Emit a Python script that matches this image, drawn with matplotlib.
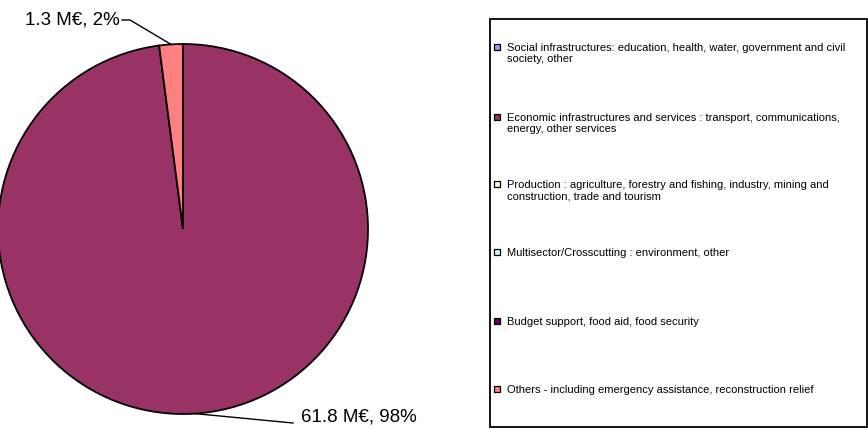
import matplotlib
matplotlib.use("Agg")
import matplotlib.pyplot as plt
from matplotlib.patches import Rectangle
import numpy as np

plt.rcParams['font.family'] = ['Liberation Sans', 'DejaVu Sans']

# Commitments by sector (M€)
sectors = [
    "Social infrastructures: education, health, water, government and civil\nsociety, other",
    "Economic infrastructures and services : transport, communications,\nenergy, other services",
    "Production : agriculture, forestry and fishing, industry, mining and\nconstruction, trade and tourism",
    "Multisector/Crosscutting : environment, other",
    "Budget support, food aid, food security",
    "Others - including emergency assistance, reconstruction relief",
]
values = [0.0, 61.8, 0.0, 0.0, 0.0, 1.3]
colors = ["#9999FF", "#993366", "#FFFFCC", "#CCFFFF", "#660066", "#FF8080"]

W, H = 868, 430
fig = plt.figure(figsize=(W / 100, H / 100), dpi=100)

# Pie axes: centre (183, 229) px from top-left, radius 185 px
cx, cy, r = 183, 229, 185
ax = fig.add_axes([(cx - r) / W, (H - cy - r) / H, 2 * r / W, 2 * r / H])

nz = [i for i, v in enumerate(values) if v > 0]
wedges, _ = ax.pie([values[i] for i in nz], colors=[colors[i] for i in nz],
                   startangle=90, counterclock=False, radius=1.0,
                   wedgeprops=dict(edgecolor='black', linewidth=1.3))
ax.set_xlim(-1, 1)
ax.set_ylim(-1, 1)
ax.set_aspect('equal')
ax.axis('off')
for w in wedges:
    w.set_clip_on(False)

total = sum(values)


def px(x, y):
    return (x - cx) / r, (cy - y) / r


# label placement: (elbow point, line end, text anchor, ha)
label_layout = {
    5: (px(130, 20), px(122, 20), px(120, 20), 'right'),
    1: (px(293, 423), px(293, 423), px(301, 417), 'left'),
}
for w, i in zip(wedges, nz):
    mid = np.deg2rad((w.theta1 + w.theta2) / 2)
    ex, ey = np.cos(mid), np.sin(mid)
    elbow, end, tpos, ha = label_layout[i]
    ax.plot([ex, elbow[0], end[0]], [ey, elbow[1], end[1]], color='black',
            lw=1.0, clip_on=False)
    pct = round(values[i] / total * 100)
    ax.text(tpos[0], tpos[1], f"{values[i]} M€, {pct}%", ha=ha, va='center',
            fontsize=13.5, clip_on=False)

# Legend box
lx0, ly0, lx1, ly1 = 490, 19, 867, 427
fig.patches.append(Rectangle((lx0 / W, 1 - ly1 / H), (lx1 - lx0) / W, (ly1 - ly0) / H,
                             transform=fig.transFigure, fill=False,
                             edgecolor='black', linewidth=1.3))
entry_y = [47, 117, 184, 252, 321, 389]
for lab, col, y in zip(sectors, colors, entry_y):
    s = 6
    fig.patches.append(Rectangle((494 / W, 1 - (y + s / 2) / H), s / W, s / H,
                                 transform=fig.transFigure, facecolor=col,
                                 edgecolor='black', linewidth=0.9))
    fig.text(507 / W, 1 - (y - 4) / H, lab, ha='left', va='top', fontsize=8,
             linespacing=1.15)

fig.savefig("out.png", dpi=100)
